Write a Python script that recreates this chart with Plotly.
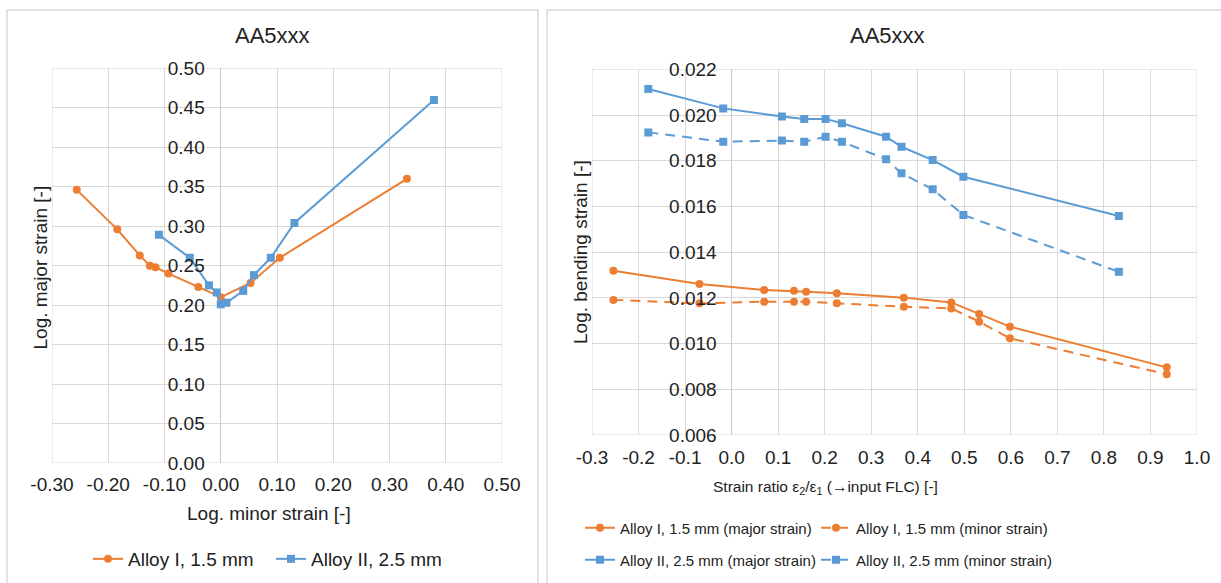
import plotly.graph_objects as go

W, H = 1221, 583
ORANGE = "#ED7D31"
BLUE = "#5B9BD5"
GRID = "#d9d9d9"
FONT = "Liberation Sans, Arial, sans-serif"
TXT = "#222222"

# ---- Left chart: FLC (major vs minor strain) ----
alloy1_minor = [-0.256, -0.184, -0.144, -0.126, -0.116, -0.093, -0.040, 0.000, 0.053, 0.105, 0.331]
alloy1_major = [0.346, 0.296, 0.263, 0.250, 0.248, 0.240, 0.223, 0.210, 0.228, 0.260, 0.360]
alloy2_minor = [-0.110, -0.055, -0.021, -0.007, 0.000, 0.010, 0.040, 0.059, 0.089, 0.131, 0.379]
alloy2_major = [0.289, 0.260, 0.225, 0.216, 0.201, 0.203, 0.218, 0.238, 0.260, 0.304, 0.460]

# ---- Right chart: bending strain vs strain ratio ----
ratio_alloy1 = [-0.254, -0.069, 0.070, 0.134, 0.160, 0.226, 0.370, 0.472, 0.532, 0.598, 0.935]
bend_alloy1_major = [0.01319, 0.01261, 0.01234, 0.01231, 0.01227, 0.01220, 0.01201, 0.01180, 0.01129, 0.01074, 0.00896]
bend_alloy1_minor = [0.01191, 0.01176, 0.01183, 0.01183, 0.01183, 0.01176, 0.01161, 0.01154, 0.01096, 0.01023, 0.00866]
ratio_alloy2 = [-0.179, -0.018, 0.108, 0.156, 0.202, 0.237, 0.332, 0.365, 0.432, 0.498, 0.832]
bend_alloy2_major = [0.02114, 0.02029, 0.01993, 0.01983, 0.01983, 0.01964, 0.01905, 0.01861, 0.01803, 0.01730, 0.01558]
bend_alloy2_minor = [0.01924, 0.01883, 0.01888, 0.01883, 0.01905, 0.01883, 0.01807, 0.01745, 0.01675, 0.01563, 0.01314]

# tick labels (hyphen-minus as in the original)
left_xticks = [-0.30, -0.20, -0.10, 0.00, 0.10, 0.20, 0.30, 0.40, 0.50]
left_xlabels = ["-0.30", "-0.20", "-0.10", "0.00", "0.10", "0.20", "0.30", "0.40", "0.50"]
right_xticks = [-0.3, -0.2, -0.1, 0.0, 0.1, 0.2, 0.3, 0.4, 0.5, 0.6, 0.7, 0.8, 0.9, 1.0]
right_xlabels = ["-0.3", "-0.2", "-0.1", "0.0", "0.1", "0.2", "0.3", "0.4", "0.5", "0.6", "0.7", "0.8", "0.9", "1.0"]

title_text = "AA5xxx"
left_xtitle = "Log. minor strain [-]"
left_ytitle = "Log. major strain [-]"
right_xtitle = "Strain ratio ε<sub>2</sub>/ε<sub>1</sub> (→input FLC) [-]"
right_ytitle = "Log. bending strain [-]"

def px(x):
    return x / W

def py(y):
    return 1 - y / H

fig = go.Figure()

LW = 2
DASH = "10px,7px"
CS = 8    # circle marker size
SS = 8    # square marker size

fig.add_trace(go.Scatter(x=alloy1_minor, y=alloy1_major, name="Alloy I, 1.5 mm",
                         mode="lines+markers", line=dict(color=ORANGE, width=LW),
                         marker=dict(symbol="circle", size=CS, color=ORANGE),
                         xaxis="x", yaxis="y", legend="legend"))
fig.add_trace(go.Scatter(x=alloy2_minor, y=alloy2_major, name="Alloy II, 2.5 mm",
                         mode="lines+markers", line=dict(color=BLUE, width=LW),
                         marker=dict(symbol="square", size=SS, color=BLUE),
                         xaxis="x", yaxis="y", legend="legend"))

fig.add_trace(go.Scatter(x=ratio_alloy1, y=bend_alloy1_major, name="Alloy I, 1.5 mm (major strain)",
                         mode="lines+markers", line=dict(color=ORANGE, width=LW),
                         marker=dict(symbol="circle", size=CS, color=ORANGE),
                         xaxis="x2", yaxis="y2", legend="legend2"))
fig.add_trace(go.Scatter(x=ratio_alloy1, y=bend_alloy1_minor, name="Alloy I, 1.5 mm (minor strain)",
                         mode="lines+markers", line=dict(color=ORANGE, width=LW, dash=DASH),
                         marker=dict(symbol="circle", size=CS, color=ORANGE),
                         xaxis="x2", yaxis="y2", legend="legend2", legendwidth=230))
fig.add_trace(go.Scatter(x=ratio_alloy2, y=bend_alloy2_major, name="Alloy II, 2.5 mm (major strain)",
                         mode="lines+markers", line=dict(color=BLUE, width=LW),
                         marker=dict(symbol="square", size=SS, color=BLUE),
                         xaxis="x2", yaxis="y2", legend="legend3"))
fig.add_trace(go.Scatter(x=ratio_alloy2, y=bend_alloy2_minor, name="Alloy II, 2.5 mm (minor strain)",
                         mode="lines+markers", line=dict(color=BLUE, width=LW, dash=DASH),
                         marker=dict(symbol="square", size=SS, color=BLUE),
                         xaxis="x2", yaxis="y2", legend="legend3", legendwidth=230))

tickfont = dict(family=FONT, size=19, color=TXT)

# plot area pixels
L_x0, L_x1, L_yt, L_yb = 52, 502, 68.3, 463
R_x0, R_x1, R_yt, R_yb = 592, 1197, 69.3, 435

xr_left = [-0.30, 0.50]
yr_left = [0.0, 0.50]
xr_right = [-0.3, 1.0]
yr_right = [0.006, 0.022]

left_y_pos = px(L_x0 + (0 - xr_left[0]) / (xr_left[1] - xr_left[0]) * (L_x1 - L_x0))
right_y_pos = px(R_x0 + (0 - xr_right[0]) / (xr_right[1] - xr_right[0]) * (R_x1 - R_x0))

axis_common = dict(showgrid=True, gridcolor=GRID, gridwidth=1, showline=False,
                   ticks="", tickfont=tickfont, zerolinecolor="#c8c8c8", zerolinewidth=1,
                   automargin=False)

fig.update_layout(
    width=W, height=H,
    margin=dict(l=0, r=0, t=0, b=0, pad=0, autoexpand=False),
    paper_bgcolor="white", plot_bgcolor="white",
    font=dict(family=FONT, color=TXT),
    xaxis=dict(domain=[px(L_x0), px(L_x1)], range=xr_left, tickmode="array",
               tickvals=left_xticks, ticktext=left_xlabels,
               anchor="y", ticklabelstandoff=8, zeroline=True, **axis_common),
    yaxis=dict(domain=[py(L_yb), py(L_yt)], range=yr_left, dtick=0.05, tick0=0,
               tickformat=".2f", anchor="free", position=left_y_pos, ticklabelstandoff=16,
               zeroline=False, **axis_common),
    xaxis2=dict(domain=[px(R_x0), px(R_x1)], range=xr_right, tickmode="array",
                tickvals=right_xticks, ticktext=right_xlabels,
                anchor="y2", ticklabelstandoff=9, zeroline=True, **axis_common),
    yaxis2=dict(domain=[py(R_yb), py(R_yt)], range=yr_right, dtick=0.002, tick0=0.006,
                tickformat=".3f", anchor="free", position=right_y_pos, ticklabelstandoff=15,
                zeroline=False, **axis_common),
    legend=dict(orientation="h", x=px(88), y=py(559), xanchor="left", yanchor="middle",
                font=dict(family=FONT, size=19, color=TXT), entrywidth=138,
                entrywidthmode="pixels", bgcolor="rgba(0,0,0,0)"),
    legend2=dict(orientation="h", x=px(580), y=py(528), xanchor="left", yanchor="middle",
                 font=dict(family=FONT, size=15, color=TXT), entrywidth=191,
                 entrywidthmode="pixels", bgcolor="rgba(0,0,0,0)"),
    legend3=dict(orientation="h", x=px(580), y=py(560), xanchor="left", yanchor="middle",
                 font=dict(family=FONT, size=15, color=TXT), entrywidth=191,
                 entrywidthmode="pixels", bgcolor="rgba(0,0,0,0)"),
    showlegend=True,
)

# panel borders and plot area boxes
shapes = [
    dict(type="rect", xref="paper", yref="paper", x0=px(7), x1=px(538), y0=-0.1, y1=py(10),
         line=dict(color=GRID, width=1.5), layer="below"),
    dict(type="rect", xref="paper", yref="paper", x0=px(547), x1=1.1, y0=-0.1, y1=py(10),
         line=dict(color=GRID, width=1.5), layer="below"),
    dict(type="rect", xref="x", yref="y", x0=xr_left[0], x1=xr_left[1], y0=yr_left[0], y1=yr_left[1],
         line=dict(color=GRID, width=1), layer="below"),
    dict(type="rect", xref="x2", yref="y2", x0=xr_right[0], x1=xr_right[1], y0=yr_right[0], y1=yr_right[1],
         line=dict(color=GRID, width=1), layer="below"),
]
fig.update_layout(shapes=shapes)

ann_font = dict(family=FONT, size=19, color=TXT)
annotations = [
    dict(text=title_text, x=px(272), y=py(36), xref="paper", yref="paper", showarrow=False,
         font=dict(family=FONT, size=22, color=TXT), xanchor="center", yanchor="middle"),
    dict(text=title_text, x=px(887), y=py(36), xref="paper", yref="paper", showarrow=False,
         font=dict(family=FONT, size=22, color=TXT), xanchor="center", yanchor="middle"),
    dict(text=left_xtitle, x=px(269), y=py(513), xref="paper", yref="paper", showarrow=False,
         font=ann_font, xanchor="center", yanchor="middle"),
    dict(text=left_ytitle, x=px(40), y=py(267.5), xref="paper", yref="paper", showarrow=False,
         font=ann_font, textangle=-90, xanchor="center", yanchor="middle"),
    dict(text=right_xtitle, x=px(825), y=py(487), xref="paper", yref="paper", showarrow=False,
         font=dict(family=FONT, size=15.5, color=TXT), xanchor="center", yanchor="middle"),
    dict(text=right_ytitle, x=px(580), y=py(252), xref="paper", yref="paper", showarrow=False,
         font=ann_font, textangle=-90, xanchor="center", yanchor="middle"),
]
fig.update_layout(annotations=annotations)

fig.write_html("out.html", config={"displayModeBar": False})
